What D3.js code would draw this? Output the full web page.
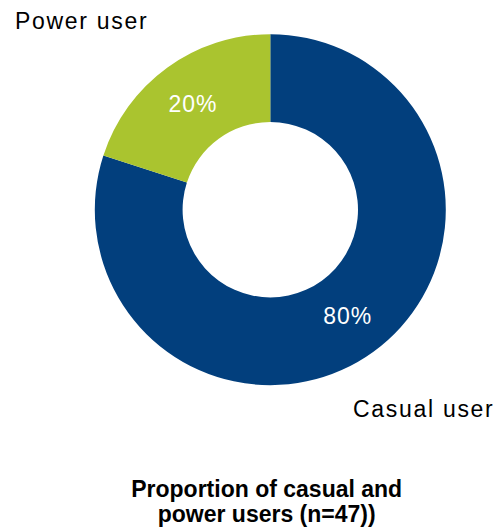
<!DOCTYPE html>
<html>
<head>
<meta charset="utf-8">
<script src="https://cdn.jsdelivr.net/npm/d3@7"></script>
<style>
  html, body { margin: 0; padding: 0; background: #fff; }
  svg { display: block; font-family: Arial, "Liberation Sans", sans-serif; }
</style>
</head>
<body>
<svg id="chart" width="498" height="531"></svg>
<script>
const categories = ["Casual user", "Power user"];
const values = [80, 20];
const valueLabels = ["80%", "20%"];
const colors = ["#023F7D", "#AAC42F"];
const titleLines = ["Proportion of casual and", "power users (n=47))"];

const svg = d3.select("#chart");
const cx = 270.3, cy = 209.7;
const outerR = 175.5, innerR = 87.7;

const data = categories.map((c, i) => ({ name: c, value: values[i], label: valueLabels[i], color: colors[i] }));

const pie = d3.pie().sort(null).value(d => d.value);
const arc = d3.arc().innerRadius(innerR).outerRadius(outerR);

const g = svg.append("g").attr("transform", `translate(${cx},${cy})`);
const arcs = pie(data);

g.selectAll("path").data(arcs).enter().append("path")
  .attr("d", arc)
  .attr("fill", d => d.data.color);

g.selectAll("text.val").data(arcs).enter().append("text")
  .attr("class", "val")
  .attr("transform", d => `translate(${arc.centroid(d)})`)
  .attr("text-anchor", "middle")
  .attr("dy", "0.36em")
  .attr("fill", "#fff")
  .style("font-size", "23px")
  .style("letter-spacing", "1px")
  .text(d => d.data.label);

// category labels outside the ring
const catPos = { "Casual user": [353, 416.7], "Power user": [15, 29] };
svg.selectAll("text.cat").data(data).enter().append("text")
  .attr("class", "cat")
  .attr("x", d => catPos[d.name][0])
  .attr("y", d => catPos[d.name][1])
  .attr("fill", "#000")
  .style("font-size", "23px")
  .style("letter-spacing", "1.7px")
  .text(d => d.name);

svg.selectAll("text.title").data(titleLines).enter().append("text")
  .attr("class", "title")
  .attr("x", 266.7)
  .attr("y", (d, i) => 496.5 + i * 25)
  .attr("text-anchor", "middle")
  .attr("fill", "#000")
  .style("font-size", "23px")
  .style("font-weight", "bold")
  .text(d => d);
</script>
</body>
</html>
